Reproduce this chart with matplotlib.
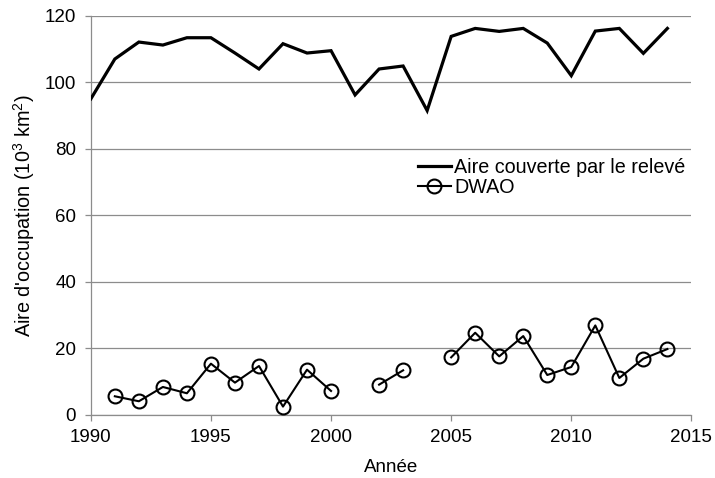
import numpy as np
import matplotlib
matplotlib.use("Agg")
import matplotlib.pyplot as plt

plt.rcParams['font.family'] = ['Liberation Sans', 'DejaVu Sans']
plt.rcParams['mathtext.default'] = 'regular'

years = list(range(1990, 2015))
surveyed_area = [95.0, 107.0, 112.1, 111.2, 113.4, 113.4, 108.8, 104.0, 111.6, 108.8,
                 109.5, 96.2, 104.0, 104.9, 91.5, 113.8, 116.2, 115.3, 116.2, 111.8,
                 102.0, 115.4, 116.2, 108.7, 116.2]
dwao_years = list(range(1991, 2015))
dwao = [5.6, 4.1, 8.4, 6.5, 15.4, 9.7, 14.7, 2.5, 13.6, 7.2,
        np.nan, 9.1, 13.4, np.nan, 17.3, 24.7, 17.6, 23.7, 12.0, 14.4,
        26.9, 11.1, 16.9, 19.8]

x_ticks = [1990, 1995, 2000, 2005, 2010, 2015]
y_ticks = [0, 20, 40, 60, 80, 100, 120]

grey = '#8c8c8c'
fs = 13.5
fig = plt.figure(figsize=(7.15, 4.78), dpi=100)
ax = fig.add_axes([0.127, 0.132, 0.840, 0.835])

ax.plot(years, surveyed_area, color='black', lw=2.3, label='Aire couverte par le relevé',
        solid_joinstyle='miter', zorder=3)
ax.plot(dwao_years, dwao, color='black', lw=1.5, marker='o', ms=10, mfc='none',
        mec='black', mew=1.5, label='DWAO', zorder=3)

ax.set_xlim(1990, 2015)
ax.set_ylim(0, 120)
ax.set_xticks(x_ticks)
ax.set_yticks(y_ticks)
ax.grid(axis='y', color=grey, lw=0.9)
ax.set_axisbelow(True)
for s in ['top', 'right']:
    ax.spines[s].set_visible(False)
for s in ['left', 'bottom']:
    ax.spines[s].set_color(grey)
    ax.spines[s].set_linewidth(0.9)
ax.tick_params(axis='both', colors=grey, labelcolor='black', labelsize=fs,
               length=4.5, width=0.9, direction='out')
ax.tick_params(axis='x', pad=6)
ax.tick_params(axis='y', pad=6)
ax.set_xlabel('Année', fontsize=fs, labelpad=9)
ax.set_ylabel("Aire d'occupation (10$^{3}$ km$^{2}$)", fontsize=14.3, labelpad=5.5)

leg = ax.legend(loc='upper left', bbox_to_anchor=(0.5846, 0.669), bbox_transform=fig.transFigure,
                frameon=False, fontsize=14.2, handlelength=1.65, handletextpad=0.2,
                labelspacing=0.05, borderaxespad=0, borderpad=0)
leg.set_zorder(5)

fig.savefig('out.png', dpi=100)
